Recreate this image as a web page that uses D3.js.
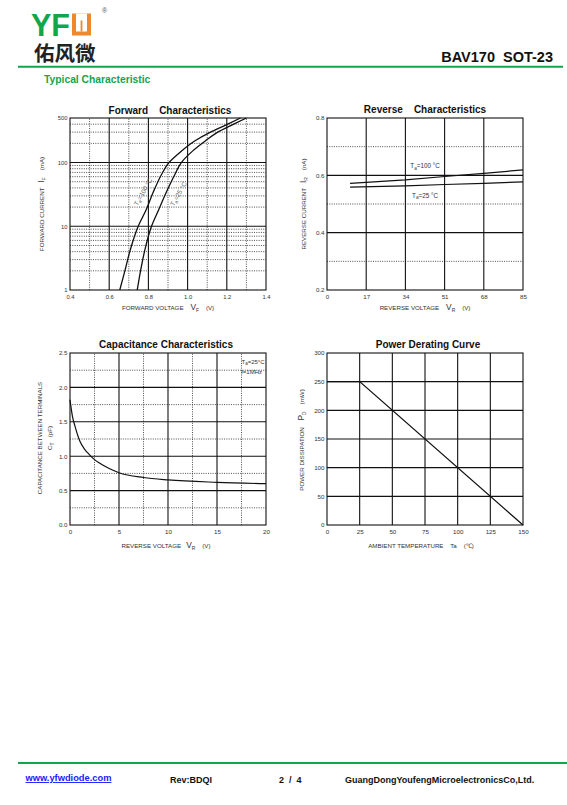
<!DOCTYPE html>
<html>
<head>
<meta charset="utf-8">
<script src="https://cdn.jsdelivr.net/npm/d3@7"></script>
<style>
  body { margin: 0; background: #fff; }
  svg { display: block; font-family: "Liberation Sans", Arial, sans-serif; }
</style>
</head>
<body>
<div id="canvas"></div>
<script>
var fwdCurrent = [1, 2, 4, 10, 18, 35, 65, 100, 151, 218, 295, 400, 500];      // mA
var fwdV100    = [0.654, 0.680, 0.705, 0.748, 0.788, 0.826, 0.867, 0.905, 0.968, 1.036, 1.112, 1.205, 1.27];
var fwdV25     = [0.743, 0.760, 0.780, 0.816, 0.852, 0.893, 0.935, 0.968, 1.025, 1.090, 1.150, 1.235, 1.30];
var fwdXTicks  = [0.4, 0.6, 0.8, 1.0, 1.2, 1.4];
var fwdYTicks  = [1, 10, 100, 500];

var revVoltage = [10, 34, 51, 68, 85];                                 // V
var revI100    = [0.572, 0.584, 0.596, 0.607, 0.619];                  // nA
var revI25     = [0.559, 0.563, 0.568, 0.572, 0.577];
var revXTicks  = [0, 17, 34, 51, 68, 85];
var revYTicks  = [0.2, 0.4, 0.6, 0.8];

var capVoltage = [0, 0.25, 0.5, 1, 1.5, 2, 2.5, 3, 4, 5, 7.5, 10, 15, 20];
var capValue   = [1.82, 1.58, 1.44, 1.22, 1.10, 1.02, 0.95, 0.90, 0.82, 0.76, 0.69, 0.655, 0.62, 0.60];
var capXTicks  = [0, 5, 10, 15, 20];
var capYTicks  = [0, 0.5, 1.0, 1.5, 2.0, 2.5];

var pdTemp     = [0, 25, 150];
var pdPower    = [250, 250, 0];
var pdXTicks   = [0, 25, 50, 75, 100, 125, 150];
var pdYTicks   = [0, 50, 100, 150, 200, 250, 300];

var green = "#12a64a";

var svg = d3.select("#canvas").append("svg")
    .attr("width", 567).attr("height", 805);

// ---- header ----
svg.append("text").attr("x", 31).attr("y", 35.5)
    .attr("font-size", 30.5).attr("font-weight", "bold").attr("fill", green)
    .text("YF");
var ux = 72, uy = 13.5;
svg.append("rect").attr("x", ux).attr("y", uy).attr("width", 19).attr("height", 22).attr("fill", "#f0872a");
svg.append("rect").attr("x", ux + 4).attr("y", uy).attr("width", 11).attr("height", 18).attr("fill", "#fff");
svg.append("rect").attr("x", ux + 8.6).attr("y", uy + 7).attr("width", 1.8).attr("height", 11).attr("fill", "#f0872a");
svg.append("text").attr("x", 102).attr("y", 13).attr("font-size", 7).attr("fill", "#555").text("®");
svg.append("text").attr("x", 34).attr("y", 60.5)
    .attr("font-family", "Noto Sans CJK SC").attr("font-size", 20.5).attr("font-weight", "bold")
    .attr("fill", "#222").text("佑风微");
svg.append("text").attr("x", 553).attr("y", 61.5).attr("text-anchor", "end")
    .attr("font-size", 14.5).attr("font-weight", "bold").attr("fill", "#111")
    .attr("xml:space", "preserve").text("BAV170  SOT-23");
svg.append("line").attr("x1", 18).attr("x2", 563).attr("y1", 66.7).attr("y2", 66.7)
    .attr("stroke", green).attr("stroke-width", 2);
svg.append("text").attr("x", 44).attr("y", 82.5)
    .attr("font-size", 10.3).attr("font-weight", "bold").attr("fill", green)
    .text("Typical Characteristic");

// ---- footer ----
svg.append("line").attr("x1", 18).attr("x2", 567).attr("y1", 763).attr("y2", 763)
    .attr("stroke", green).attr("stroke-width", 2);
svg.append("text").attr("x", 25.5).attr("y", 781).attr("font-size", 9.3).attr("font-weight", "bold")
    .attr("fill", "#1a1aff").attr("text-decoration", "underline").text("www.yfwdiode.com");
svg.append("text").attr("x", 170).attr("y", 783).attr("font-size", 9).attr("font-weight", "bold")
    .attr("fill", "#111").text("Rev:BDQI");
svg.append("text").attr("x", 279).attr("y", 783).attr("font-size", 9).attr("font-weight", "bold")
    .attr("fill", "#111").attr("xml:space", "preserve").text("2  /  4");
svg.append("text").attr("x", 345).attr("y", 783).attr("font-size", 9).attr("font-weight", "bold")
    .attr("fill", "#111").text("GuangDongYoufengMicroelectronicsCo,Ltd.");

// ---- helpers ----
function gridLines(g, x, y, vSolid, vDot, hSolid, hDot) {
    var x0 = x.range()[0], x1 = x.range()[1], y0 = y.range()[0], y1 = y.range()[1];
    g.selectAll(null).data(vDot).enter().append("line")
        .attr("x1", d => x(d)).attr("x2", d => x(d)).attr("y1", y0).attr("y2", y1)
        .attr("stroke", "#222").attr("stroke-width", 0.8).attr("stroke-dasharray", "1,1.3");
    g.selectAll(null).data(hDot).enter().append("line")
        .attr("y1", d => y(d)).attr("y2", d => y(d)).attr("x1", x0).attr("x2", x1)
        .attr("stroke", "#222").attr("stroke-width", 0.8).attr("stroke-dasharray", "1,1.3");
    g.selectAll(null).data(vSolid).enter().append("line")
        .attr("x1", d => x(d)).attr("x2", d => x(d)).attr("y1", y0).attr("y2", y1)
        .attr("stroke", "#111").attr("stroke-width", 1.1);
    g.selectAll(null).data(hSolid).enter().append("line")
        .attr("y1", d => y(d)).attr("y2", d => y(d)).attr("x1", x0).attr("x2", x1)
        .attr("stroke", "#111").attr("stroke-width", 1.1);
    g.append("rect").attr("x", x0).attr("y", y1).attr("width", x1 - x0).attr("height", y0 - y1)
        .attr("fill", "none").attr("stroke", "#111").attr("stroke-width", 1.1);
}

function axes(g, x, y, xt, yt, yfmt) {
    var xa = d3.axisBottom(x).tickValues(xt).tickSize(0).tickPadding(4.5);
    var ya = d3.axisLeft(y).tickValues(yt).tickSize(0).tickPadding(2.5).tickFormat(yfmt);
    g.append("g").attr("transform", "translate(0," + y.range()[0] + ")").call(xa)
        .call(s => s.select(".domain").remove())
        .selectAll("text").attr("font-size", 6.2).attr("fill", "#333");
    g.append("g").attr("transform", "translate(" + x.range()[0] + ",0)").call(ya)
        .call(s => s.select(".domain").remove())
        .selectAll("text").attr("font-size", 6.2).attr("fill", "#333");
}

function title(x, y, txt) {
    svg.append("text").attr("x", x).attr("y", y).attr("text-anchor", "middle")
        .attr("font-size", 10).attr("font-weight", "bold").attr("fill", "#111")
        .attr("xml:space", "preserve").text(txt);
}

// label with a subscripted symbol: before, sym, sub, after
function subLabel(g, x, y, rot, parts, size) {
    var t = g.append("text").attr("transform", "translate(" + x + "," + y + ") rotate(" + rot + ")")
        .attr("text-anchor", "middle").attr("font-size", size).attr("fill", "#333")
        .attr("xml:space", "preserve");
    t.append("tspan").text(parts[0]);
    t.append("tspan").attr("font-size", size * 1.35).text(parts[1]);
    t.append("tspan").attr("font-size", size * 0.8).attr("dy", 2).text(parts[2]);
    t.append("tspan").attr("dy", -2).text(parts[3]);
    return t;
}

function taLabel(g, x, y, rot, temp, size) {
    var t = g.append("text").attr("transform", "translate(" + x + "," + y + ") rotate(" + rot + ")")
        .attr("text-anchor", "middle").attr("font-size", size).attr("fill", "#333");
    t.append("tspan").text("T");
    t.append("tspan").attr("font-size", size * 0.75).attr("dy", 1.5).text("a");
    t.append("tspan").attr("dy", -1.5).text("=" + temp);
    return t;
}

var smooth = d3.line().curve(d3.curveMonotoneY);
var smoothX = d3.line().curve(d3.curveMonotoneX);

// ---- Forward characteristics ----
(function () {
    var g = svg.append("g");
    var x = d3.scaleLinear().domain([0.4, 1.4]).range([70, 266]);
    var y = d3.scaleLog().domain([1, 500]).range([290, 118]);
    var hDot = [2, 3, 4, 5, 6, 7, 8, 9, 20, 30, 40, 50, 60, 70, 80, 90, 200, 300, 400];
    gridLines(g, x, y, [0.6, 0.8, 1.0, 1.2], [0.5, 0.7, 0.9, 1.1, 1.3], [10, 100], hDot);
    axes(g, x, y, fwdXTicks, fwdYTicks, d3.format("d"));
    g.selectAll(".tick text").attr("font-size", 5.8);

    [fwdV100, fwdV25].forEach(function (vs) {
        g.append("path")
            .attr("d", smooth(fwdCurrent.map((c, i) => [x(vs[i]), y(c)])))
            .attr("fill", "none").attr("stroke", "#111").attr("stroke-width", 1.3);
    });

    taLabel(g, 145, 193, -60, "100 °C", 6.5).attr("fill", "#666");
    taLabel(g, 180.5, 195, -60, "25 °C", 6.5).attr("fill", "#666");

    title(170, 113.5, "Forward    Characteristics");
    subLabel(g, 44, 204, -90, ["FORWARD CURRENT   ", "I", "F", "    (mA)"], 6.2);
    subLabel(g, 168, 310, 0, ["FORWARD VOLTAGE    ", "V", "F", "    (V)"], 6.2);
})();

// ---- Reverse characteristics ----
(function () {
    var g = svg.append("g");
    var x = d3.scaleLinear().domain([0, 85]).range([327, 523]);
    var y = d3.scaleLinear().domain([0.2, 0.8]).range([290, 118]);
    gridLines(g, x, y, [17, 34, 51, 68], [], [0.4, 0.6], [0.3, 0.5, 0.7]);
    axes(g, x, y, revXTicks, revYTicks, d3.format(".1f"));

    [revI100, revI25].forEach(function (is) {
        g.append("path")
            .attr("d", d3.line()(revVoltage.map((v, i) => [x(v), y(is[i])])))
            .attr("fill", "none").attr("stroke", "#111").attr("stroke-width", 1.2);
    });

    taLabel(g, 425, 168, 0, "100 °C", 6.3);
    taLabel(g, 425, 197.5, 0, "25 °C", 6.3);

    title(425, 113, "Reverse    Characteristics");
    subLabel(g, 306, 204, -90, ["REVERSE CURRENT   ", "I", "R", "    (nA)"], 6.2);
    subLabel(g, 425, 310, 0, ["REVERSE VOLTAGE    ", "V", "R", "    (V)"], 6.2);
})();

// ---- Capacitance characteristics ----
(function () {
    var g = svg.append("g");
    var x = d3.scaleLinear().domain([0, 20]).range([70, 266]);
    var y = d3.scaleLinear().domain([0, 2.5]).range([525, 353]);
    gridLines(g, x, y, [5, 10, 15], [2.5, 7.5, 12.5, 17.5],
        [0.5, 1.0, 1.5, 2.0], [0.25, 0.75, 1.25, 1.75, 2.25]);
    axes(g, x, y, capXTicks, capYTicks, d3.format(".1f"));

    g.append("path")
        .attr("d", smoothX(capVoltage.map((v, i) => [x(v), y(capValue[i])])))
        .attr("fill", "none").attr("stroke", "#111").attr("stroke-width", 1.2);

    taLabel(g, 253, 363.5, 0, "25°C", 6);
    g.append("text").attr("x", 262).attr("y", 373.5).attr("text-anchor", "end")
        .attr("font-size", 6).attr("fill", "#333").text("f=1MHz");

    title(166, 347.5, "Capacitance Characteristics");
    g.append("text").attr("transform", "translate(42,438) rotate(-90)").attr("text-anchor", "middle")
        .attr("font-size", 6.2).attr("fill", "#333").text("CAPACITANCE BETWEEN TERMINALS");
    var t = g.append("text").attr("transform", "translate(52,438) rotate(-90)").attr("text-anchor", "middle")
        .attr("font-size", 6.2).attr("fill", "#333").attr("xml:space", "preserve");
    t.append("tspan").text("C");
    t.append("tspan").attr("font-size", 5).attr("dy", 2).text("T");
    t.append("tspan").attr("dy", -2).text("   (pF)");
    subLabel(g, 166, 548, 0, ["REVERSE VOLTAGE   ", "V", "R", "    (V)"], 6.2);
})();

// ---- Power derating curve ----
(function () {
    var g = svg.append("g");
    var x = d3.scaleLinear().domain([0, 150]).range([327, 523]);
    var y = d3.scaleLinear().domain([0, 300]).range([525, 353]);
    gridLines(g, x, y, [25, 50, 75, 100, 125], [], [50, 100, 150, 200, 250], []);
    axes(g, x, y, pdXTicks, pdYTicks, d3.format("d"));

    g.append("path")
        .attr("d", d3.line()(pdTemp.map((t, i) => [x(t), y(pdPower[i])])))
        .attr("fill", "none").attr("stroke", "#111").attr("stroke-width", 1.2);

    title(428, 347.5, "Power Derating Curve");
    subLabel(g, 304, 440, -90, ["POWER DISSIPATION    ", "P", "D", "    (mW)"], 6.2);
    g.append("text").attr("x", 421).attr("y", 547.5).attr("text-anchor", "middle")
        .attr("font-size", 6.2).attr("fill", "#333").attr("xml:space", "preserve")
        .text("AMBIENT TEMPERATURE    Ta    (\u2103)");
})();
</script>
</body>
</html>
